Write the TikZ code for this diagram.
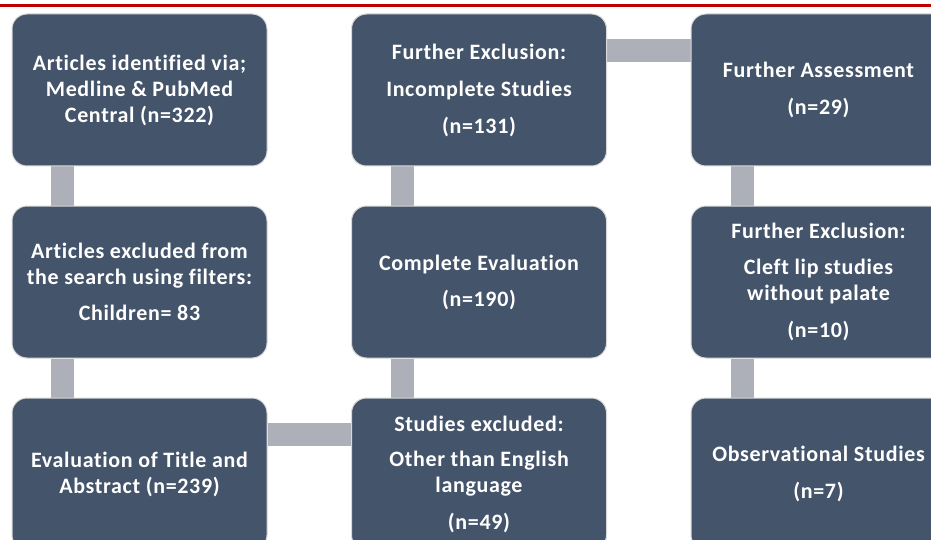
\documentclass[tikz,border=0pt]{standalone}
\usepackage{fontspec}
\setmainfont[LetterSpace=3,Ligatures={NoCommon},RawFeature={-clig}]{Carlito}
\usetikzlibrary{backgrounds}
\definecolor{boxfill}{RGB}{68,84,106}
\definecolor{connfill}{RGB}{173,176,184}
\definecolor{redline}{RGB}{192,0,0}
\begin{document}
\begin{tikzpicture}[x=1pt,y=-1pt,
  flowbox/.style={draw=black!15, line width=1pt, fill=boxfill, rounded corners=15pt,
    minimum width=255pt, minimum height=152pt, inner sep=0pt, align=center,
    text=white, font=\bfseries\fontsize{22}{26}\selectfont},
  conn/.style={draw=connfill, line width=23pt, line cap=butt}]
\useasboundingbox (0,0) rectangle (931,540);
\clip (0,0) rectangle (931,540);
\fill[redline] (0,4) rectangle (931,6.6);
% row 1
\node[flowbox] (b11) at (139.5,90) {Articles identified via;\\Medline \& PubMed\\Central (n=322)};
\node[flowbox] (b12) at (479,90) {Further Exclusion:\\[11pt]Incomplete Studies\\[11pt](n=131)};
\node[flowbox] (b13) at (818.5,90) {Further Assessment\\[11pt](n=29)};
% row 2
\node[flowbox] (b21) at (139.5,282) {Articles excluded from\\the search using filters:\\[10pt]Children= 83};
\node[flowbox] (b22) at (479,282) {Complete Evaluation\\[10pt](n=190)};
\node[flowbox] (b23) at (818.5,282) {Further Exclusion:\\[10pt]Cleft lip studies\\without palate\\[11pt](n=10)};
% row 3
\node[flowbox] (b31) at (139.5,474) {Evaluation of Title and\\Abstract (n=239)};
\node[flowbox] (b32) at (479,474) {Studies excluded:\\[9pt]Other than English\\language\\[11pt](n=49)};
\node[flowbox] (b33) at (818.5,474) {Observational Studies\\[11pt](n=7)};
% connectors
\begin{scope}[on background layer]
\draw[conn] ([xshift=50.5pt]b11.south west) -- ([xshift=50.5pt]b21.north west);
\draw[conn] ([xshift=50.5pt]b21.south west) -- ([xshift=50.5pt]b31.north west);
\draw[conn] ([xshift=51pt]b12.south west) -- ([xshift=51pt]b22.north west);
\draw[conn] ([xshift=51pt]b22.south west) -- ([xshift=51pt]b32.north west);
\draw[conn] ([xshift=51.5pt]b13.south west) -- ([xshift=51.5pt]b23.north west);
\draw[conn] ([xshift=51.5pt]b23.south west) -- ([xshift=51.5pt]b33.north west);
\draw[conn] ([yshift=-37.5pt]b12.north east) -- ([yshift=-37.5pt]b13.north west);
\draw[conn] ([yshift=-36.5pt]b31.north east) -- ([yshift=-36.5pt]b32.north west);
\end{scope}
\end{tikzpicture}
\end{document}
